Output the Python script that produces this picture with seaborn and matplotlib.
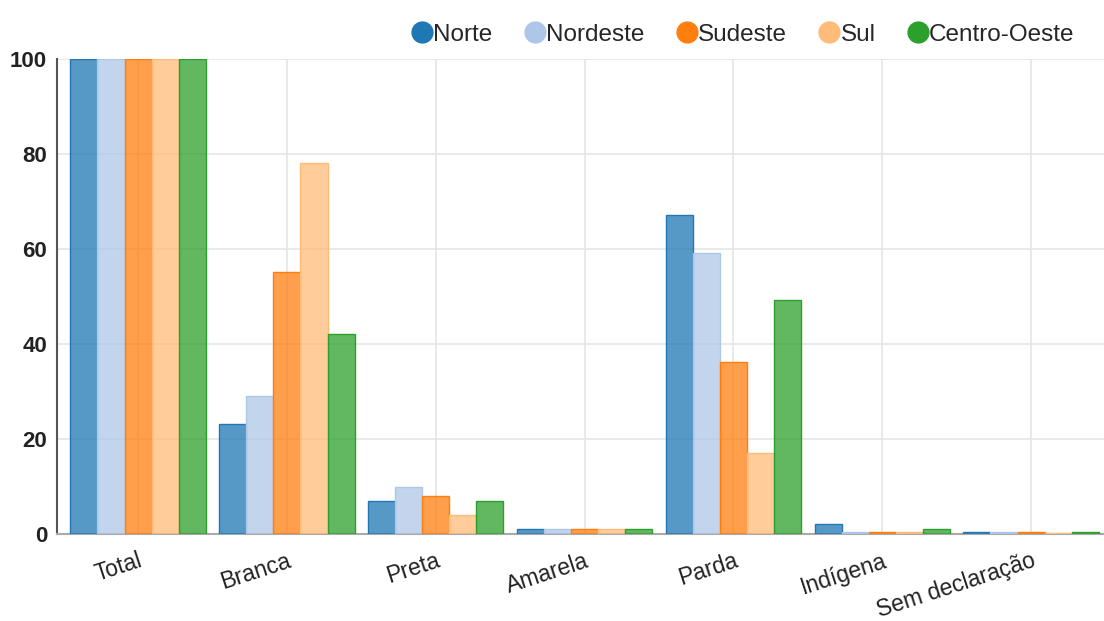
import matplotlib
matplotlib.use("Agg")
import matplotlib.pyplot as plt
import matplotlib.transforms as mtransforms
import seaborn as sns
import pandas as pd
from matplotlib.lines import Line2D
from matplotlib.colors import to_rgba

categories = ["Total", "Branca", "Preta", "Amarela", "Parda", "Indígena", "Sem declaração"]
regions = ["Norte", "Nordeste", "Sudeste", "Sul", "Centro-Oeste"]
norte = [100, 23.2, 6.9, 1.1, 67.2, 2.1, 0.5]
nordeste = [100, 29.1, 9.9, 1.1, 59.2, 0.4, 0.4]
sudeste = [100, 55.2, 8.0, 1.1, 36.2, 0.4, 0.4]
sul = [100, 78.1, 4.0, 1.1, 17.1, 0.4, 0.3]
centro_oeste = [100, 42.1, 6.9, 1.1, 49.3, 1.1, 0.4]
colors = ["#1f77b4", "#aec7e8", "#ff7f0e", "#ffbb78", "#2ca02c"]
yticks = [0, 20, 40, 60, 80, 100]

series = [norte, nordeste, sudeste, sul, centro_oeste]
rows = []
for reg, vals in zip(regions, series):
    for cat, v in zip(categories, vals):
        rows.append({"cat": cat, "region": reg, "value": v})
df = pd.DataFrame(rows)

sns.set_theme(style="white")
plt.rcParams["font.family"] = ["Liberation Sans", "DejaVu Sans"]

fig = plt.figure(figsize=(11.04, 6.21), dpi=100)
ax = fig.add_axes([0.0516, 0.140, 0.9484, 0.765])

sns.barplot(data=df, x="cat", y="value", hue="region", order=categories,
            hue_order=regions, palette=colors, width=0.91, gap=0,
            saturation=1, legend=False, ax=ax, zorder=3)

for i, cont in enumerate(ax.containers):
    c = colors[i]
    for p in cont.patches:
        p.set_facecolor(to_rgba(c, 0.75))
        p.set_edgecolor(c)
        p.set_linewidth(1.0)

ax.set_xlim(-0.545, 6.49)
ax.set_ylim(0, 100)
ax.set_yticks(yticks)
ax.set_yticklabels([str(t) for t in yticks], fontsize=16, fontweight="bold", color="#222222")
ax.set_xticks(range(len(categories)))
ax.set_xticklabels(categories, rotation=18, ha="right", rotation_mode="anchor",
                   fontsize=16.5, color="#222222")
offset = mtransforms.ScaledTranslation(0.12, 0, fig.dpi_scale_trans)
for lbl in ax.get_xticklabels():
    lbl.set_transform(lbl.get_transform() + offset)
ax.tick_params(axis="x", pad=11, length=0)
ax.tick_params(axis="y", pad=7, length=0)
ax.set_xlabel("")
ax.set_ylabel("")
ax.grid(True, color="#e5e5e5", linewidth=1.2, zorder=0)
for s in ["top", "right"]:
    ax.spines[s].set_visible(False)
ax.spines["left"].set_color("#555555")
ax.spines["left"].set_linewidth(1.5)
ax.spines["bottom"].set_color("#aaaaaa")
ax.spines["bottom"].set_linewidth(1.5)

handles = [Line2D([0], [0], marker="o", color="w", markerfacecolor=c, markeredgecolor=c,
                  markersize=15) for c in colors]
fig.legend(handles, regions, loc="upper right", bbox_to_anchor=(0.993, 0.997), ncol=5,
           frameon=False, fontsize=17.5, handletextpad=-0.15, columnspacing=1.15,
           handlelength=1.2)

fig.savefig("out.png", dpi=100)
